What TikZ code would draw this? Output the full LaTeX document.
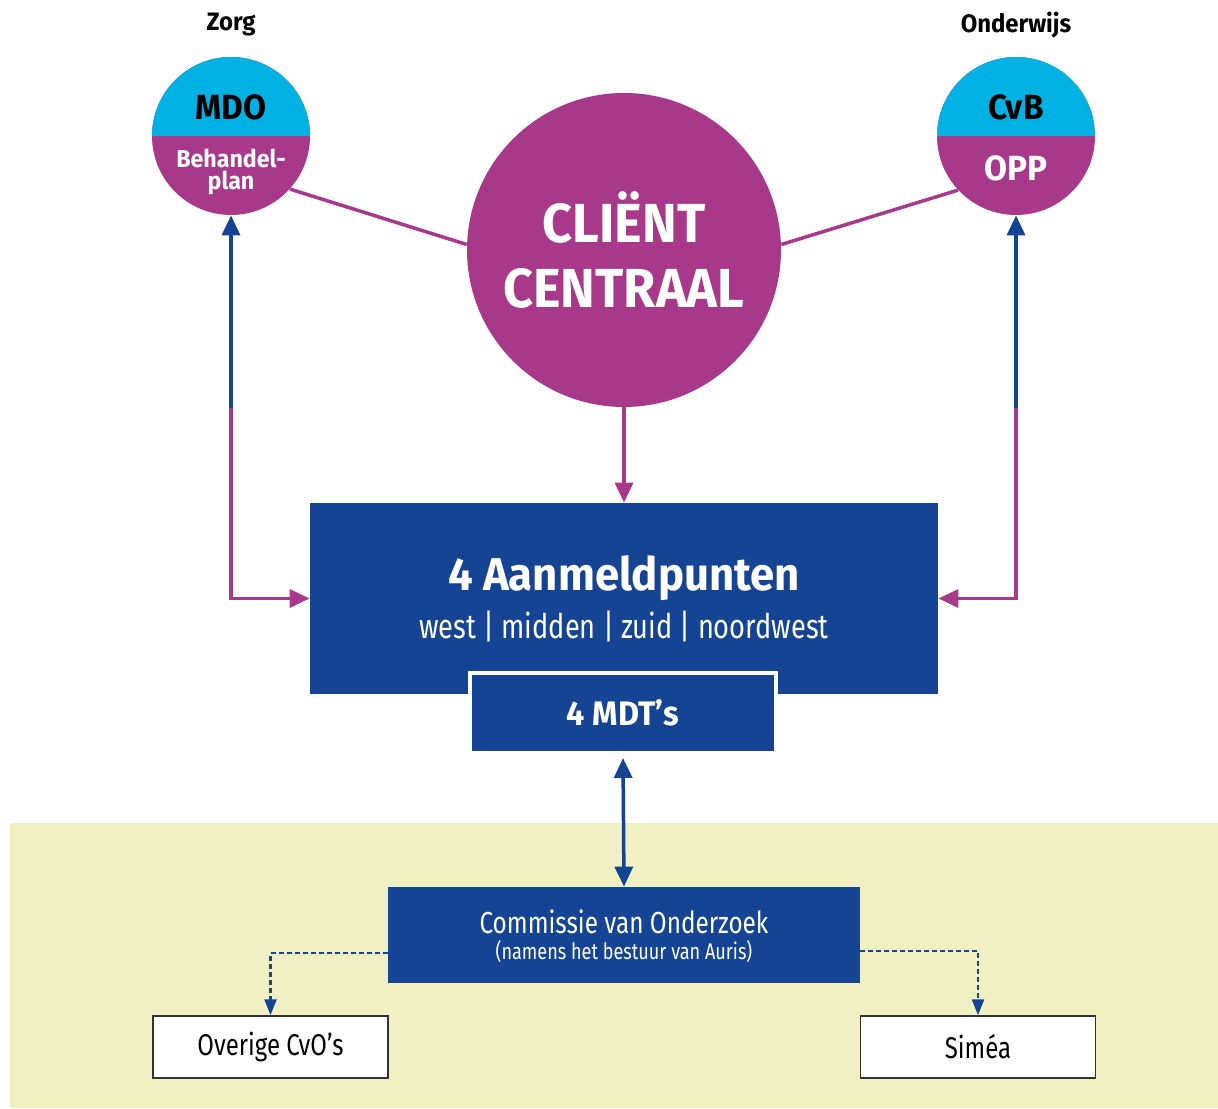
\documentclass[tikz,border=0pt]{standalone}
\usepackage{fontspec}
\setmainfont{Fira Sans}[FakeStretch=0.8]
\newfontfamily\boldface{Fira Sans}[FakeStretch=0.95]
\usetikzlibrary{arrows.meta}
\usetikzlibrary{positioning}
\definecolor{mpurple}{RGB}{168, 56, 138}
\definecolor{mcyan}{RGB}{0, 178, 227}
\definecolor{mblue}{RGB}{22, 68, 148}
\definecolor{myellow}{RGB}{240, 240, 194}
\tikzset{halfcirc/.style = {circle, minimum size=79pt, inner sep=0pt, fill=mpurple,
                            path picture={\fill[mcyan] (path picture bounding box.north west)
                                          rectangle (path picture bounding box.east);}},
         bluebox/.style = {fill=mblue, text=white, inner sep=0pt},
         whitebox/.style = {draw=black!80, line width=0.75pt, fill=white, inner sep=0pt,
                            minimum width=117.5pt, minimum height=31pt,
                            font=\fontsize{15}{18}\selectfont},
         purplearrow/.style = {draw=mpurple, line width=1.75pt, -{Triangle[length=10pt, width=9pt]}},
         bluearrow/.style = {draw=mblue, line width=1.75pt, -{Triangle[length=10pt, width=9pt]}},
         dasharrow/.style = {draw=mblue, line width=1.2pt, dash pattern=on 2.5pt off 1.5pt,
                             -{Triangle[length=8pt, width=6pt]}}}

\begin{document}
\begin{tikzpicture}[x=0.5pt, y=0.5pt]
    \useasboundingbox (0, 0) rectangle (1218, 1108);
    \fill[myellow] (10, 0) rectangle (1218, 285);

    \node[font=\boldface\bfseries\fontsize{12.6}{15}\selectfont] (zorg) at (231, 1083) {Zorg};
    \node[font=\boldface\bfseries\fontsize{12.6}{15}\selectfont] (onderwijs) at (1016, 1083) {Onderwijs};

    \node[halfcirc] (zorgcirc) at (231, 972) {};
    \node[font=\boldface\bfseries\fontsize{17.5}{20}\selectfont] (mdo) at (231, 1001) {MDO};
    \node[font=\boldface\bfseries\fontsize{12.2}{11}\selectfont, text=white, align=center] (behandel) at (231, 936) {Behandel-\\plan};

    \node[halfcirc] (onderwijscirc) at (1016, 972) {};
    \node[font=\boldface\bfseries\fontsize{17.5}{20}\selectfont] (cvb) at (1016, 1001) {CvB};
    \node[font=\boldface\bfseries\fontsize{17.5}{20}\selectfont, text=white] (opp) at (1016, 940) {OPP};

    \node[circle, fill=mpurple, minimum size=157pt, inner sep=0pt, text=white, align=center,
          font=\boldface\bfseries\fontsize{27.5}{32.5}\selectfont] (client) at (624, 858) {CLIËNT\\CENTRAAL};

    \node[bluebox, minimum width=314pt, minimum height=95.5pt] (aanmeld) at (624, 509.5) {};
    \node[font=\boldface\bfseries\fontsize{23}{28}\selectfont, text=white] (aanmeldtitel) at (624, 530) {4 Aanmeldpunten};
    \node[font=\fontsize{17}{20}\selectfont, text=white] (regio) at (624, 481) {west | midden | zuid | noordwest};
    \node[bluebox, draw=white, line width=2pt, minimum width=153pt, minimum height=40pt,
          font=\boldface\bfseries\fontsize{17}{20}\selectfont] (mdt) at (623, 395) {4 MDT’s};

    \node[bluebox, minimum width=236pt, minimum height=48pt] (cvo) at (624, 173) {};
    \node[font=\fontsize{15.2}{17}\selectfont, text=white] (cvotitel) at (624, 186) {Commissie van Onderzoek};
    \node[font=\fontsize{11.3}{13}\selectfont, text=white] (namens) at (624, 156) {(namens het bestuur van Auris)};

    \node[whitebox] (overige) at (270.5, 61) {Overige CvO’s};
    \node[whitebox] (simea) at (978, 61) {Siméa};

    \coordinate (zorgmid) at (231, 700);
    \coordinate (onderwijsmid) at (1016, 700);

    \draw[mpurple, line width=1.75pt] (zorgcirc.-42) -- (client.178);
    \draw[mpurple, line width=1.75pt] (onderwijscirc.223) -- (client.2);
    \draw[purplearrow] (client.south) -- (aanmeld.north);
    \draw[bluearrow] (zorgmid) -- (zorgcirc.south);
    \draw[purplearrow] (zorgmid) |- (aanmeld.west);
    \draw[bluearrow] (onderwijsmid) -- (onderwijscirc.south);
    \draw[purplearrow] (onderwijsmid) |- (aanmeld.east);
    \draw[bluearrow, {Triangle[length=10pt, width=9pt]}-{Triangle[length=10pt, width=9pt]}]
        ([yshift=-1.5pt]mdt.south) -- (cvo.north);
    \draw[dasharrow] ([yshift=-9pt]cvo.west) -| (overige.north);
    \draw[dasharrow] ([yshift=-8pt]cvo.east) -| (simea.north);
  \end{tikzpicture}
\end{document}
